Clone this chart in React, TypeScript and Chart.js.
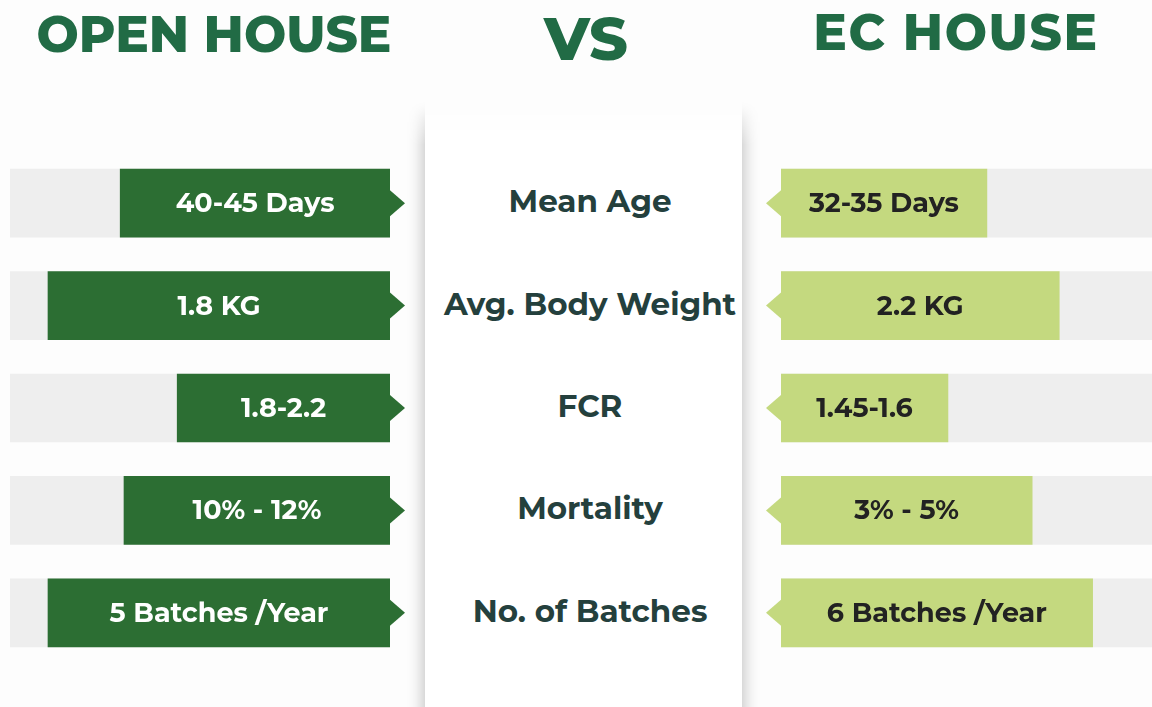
import React, { useEffect, useRef } from "react";
import { Chart, registerables } from "chart.js";

Chart.register(...registerables);

const metrics = ["Mean Age", "Avg. Body Weight", "FCR", "Mortality", "No. of Batches"];
const openLabels = ["40-45 Days", "1.8 KG", "1.8-2.2", "10% - 12%", "5 Batches /Year"];
const ecLabels = ["32-35 Days", "2.2 KG", "1.45-1.6", "3% - 5%", "6 Batches /Year"];
// bar length as % of the grey track
const openValues = [71, 90, 56, 70, 90];
const ecValues = [55.5, 75, 45, 67.7, 84];
const trackValues = [100, 100, 100, 100, 100];

const DARK = "#2c6e33";
const LIGHT = "#c4d97f";
const TRACK = "#eeeeee";
const TITLE = "#216b45";
const CENTER_TEXT = "#24403d";
const FONT = "Montserrat, 'DejaVu Sans', sans-serif";

const arrowPlugin = (side: "left" | "right", labels: string[], textColor: string, color: string) => ({
  id: "arrowLabels" + side,
  afterDatasetsDraw(chart: any) {
    const ctx = chart.ctx;
    const meta = chart.getDatasetMeta(0);
    meta.data.forEach((bar: any, i: number) => {
      const { x, y, base } = bar.getProps(["x", "y", "base"], true);
      const half = 13;
      const len = 15;
      ctx.save();
      ctx.fillStyle = color;
      ctx.beginPath();
      if (side === "left") {
        ctx.moveTo(base, y - half);
        ctx.lineTo(base + len, y);
        ctx.lineTo(base, y + half);
      } else {
        ctx.moveTo(base, y - half);
        ctx.lineTo(base - len, y);
        ctx.lineTo(base, y + half);
      }
      ctx.closePath();
      ctx.fill();
      ctx.fillStyle = textColor;
      ctx.font = `bold 27px ${FONT}`;
      ctx.textAlign = "center";
      ctx.textBaseline = "middle";
      ctx.fillText(labels[i], (x + base) / 2, y + 1);
      ctx.restore();
    });
  },
});

function makeConfig(side: "left" | "right", values: number[], labels: string[], color: string, textColor: string) {
  return {
    type: "bar" as const,
    data: {
      labels: metrics,
      datasets: [
        { data: values, backgroundColor: color, grouped: false, order: 0, barThickness: 68 },
        { data: trackValues, backgroundColor: TRACK, grouped: false, order: 1, barThickness: 68 },
      ],
    },
    options: {
      indexAxis: "y" as const,
      animation: false as const,
      responsive: false,
      maintainAspectRatio: false,
      events: [],
      layout: {
        padding: side === "left" ? { left: 10, right: 30, top: 0, bottom: 0 } : { left: 31, right: 0, top: 0, bottom: 0 },
      },
      plugins: { legend: { display: false }, tooltip: { enabled: false } },
      scales: {
        x: { display: false, min: 0, max: 100, reverse: side === "left" },
        y: { display: false },
      },
    },
    plugins: [arrowPlugin(side, labels, textColor, color)],
  };
}

function BarSide(props: { side: "left" | "right" }) {
  const ref = useRef<HTMLCanvasElement>(null);
  useEffect(() => {
    const cfg =
      props.side === "left"
        ? makeConfig("left", openValues, openLabels, DARK, "#ffffff")
        : makeConfig("right", ecValues, ecLabels, LIGHT, "#222222");
    const chart = new Chart(ref.current as HTMLCanvasElement, cfg as any);
    return () => chart.destroy();
  }, [props.side]);
  const style: React.CSSProperties =
    props.side === "left"
      ? { position: "absolute", left: 0, top: 152, width: 420, height: 512 }
      : { position: "absolute", left: 750, top: 152, width: 402, height: 512 };
  return <canvas ref={ref} width={style.width as number} height={512} style={style} />;
}

export default function App() {
  const rowCenters = metrics.map((_, i) => 152 + 51.2 + i * 102.4);
  return (
    <div
      style={{
        position: "fixed",
        left: 0,
        top: 0,
        width: 1152,
        height: 707,
        background: "#fdfdfd",
        overflow: "hidden",
        fontFamily: FONT,
      }}
    >
      <div
        style={{
          position: "absolute",
          left: 395,
          top: 100,
          width: 377,
          height: 640,
          WebkitMaskImage: "linear-gradient(to bottom, transparent 0px, black 45px)",
          maskImage: "linear-gradient(to bottom, transparent 0px, black 45px)",
        }}
      >
        <div
          style={{
            position: "absolute",
            left: 30,
            top: 0,
            width: 317,
            height: 700,
            background: "#ffffff",
            boxShadow: "-9px 0 14px -6px rgba(0,0,0,0.22), 9px 0 14px -6px rgba(0,0,0,0.22)",
          }}
        />
      </div>
      <div style={{ position: "absolute", left: 14, top: 3, width: 400, textAlign: "center", color: TITLE, fontWeight: 800, fontSize: 50, lineHeight: "64px" }}>
        OPEN HOUSE
      </div>
      <div style={{ position: "absolute", left: 486, top: 7, width: 200, textAlign: "center", color: TITLE, fontWeight: 800, fontSize: 60, lineHeight: "64px" }}>
        VS
      </div>
      <div style={{ position: "absolute", left: 756, top: 1, width: 400, textAlign: "center", color: TITLE, fontWeight: 800, fontSize: 50, lineHeight: "64px", letterSpacing: 1.6 }}>
        EC HOUSE
      </div>
      {metrics.map((m, i) => (
        <div
          key={m}
          style={{
            position: "absolute",
            left: 425,
            width: 330,
            top: rowCenters[i] - 22,
            height: 40,
            lineHeight: "40px",
            textAlign: "center",
            color: CENTER_TEXT,
            fontWeight: 700,
            fontSize: 31,
          }}
        >
          {m}
        </div>
      ))}
      <BarSide side="left" />
      <BarSide side="right" />
    </div>
  );
}
